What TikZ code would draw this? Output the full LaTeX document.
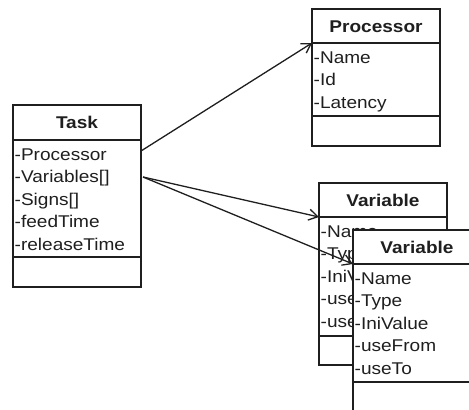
\documentclass[tikz,border=0pt]{standalone}
\usepackage{fontspec}
\setmainfont[FakeStretch=1.12]{Liberation Sans}
\usetikzlibrary{arrows.meta}

\colorlet{ink}{black!88}

\tikzset{
  umlline/.style={draw=ink, line width=1.3pt},
  classbox/.style={umlline, fill=white, anchor=north west, minimum width=128pt,
    inner sep=0pt, outer sep=0pt},
  classtitle/.style={text=ink, font=\fontsize{17}{20}\selectfont\bfseries, anchor=base, inner sep=0pt},
  attr/.style={text=ink, font=\fontsize{17}{20}\selectfont, anchor=base west, inner sep=0pt},
  assoc/.style={line width=1.3pt, draw=ink, -{Straight Barb[length=9pt,width=11pt]}},
}

% UML class: name, top-left corner, height, title, first and second divider offsets, attributes
\newcommand\umlclass[7]{%
  \node[classbox, minimum height=#3pt] (#1) at (#2) {};
  \draw[umlline] ([yshift=-#5pt]#1.north west) -- ([yshift=-#5pt]#1.north east);
  \draw[umlline] ([yshift=-#6pt]#1.north west) -- ([yshift=-#6pt]#1.north east);
  \node[classtitle] (#1-title) at ([yshift=-23pt]#1.north) {#4};
  \foreach \a [count=\i] in {#7} {
    \node[attr] (#1-attr\i) at ([xshift=1.5pt, yshift={-(#5+20+22.5*(\i-1))*1pt}]#1.north west) {\a};
  }
}

\begin{document}
\begin{tikzpicture}[x=1pt, y=-1pt]
  \clip (0,0) rectangle (469,410);

  \umlclass{task}{13,105}{182}{Task}{35}{152}{-Processor,-Variables[],-Signs[],-feedTime,-releaseTime}
  \umlclass{proc}{312,9}{137}{Processor}{34}{107}{-Name,-Id,-Latency}
  \umlclass{var1}{319,183}{182}{Variable}{34}{153}{-Name,-Type,-IniValue,-useFrom,-useTo}

  \draw[assoc] ([yshift=-46pt]task.north east) -- ([yshift=-34pt]proc.north west);
  \draw[assoc] ([xshift=2pt,yshift=-72pt]task.north east) -- ([yshift=-34pt]var1.north west);

  \umlclass{var2}{353,230}{182}{Variable}{34}{152}{-Name,-Type,-IniValue,-useFrom,-useTo}
  \draw[assoc] ([xshift=2pt,yshift=-72pt]task.north east) -- ([yshift=-34pt]var2.north west);
\end{tikzpicture}
\end{document}
